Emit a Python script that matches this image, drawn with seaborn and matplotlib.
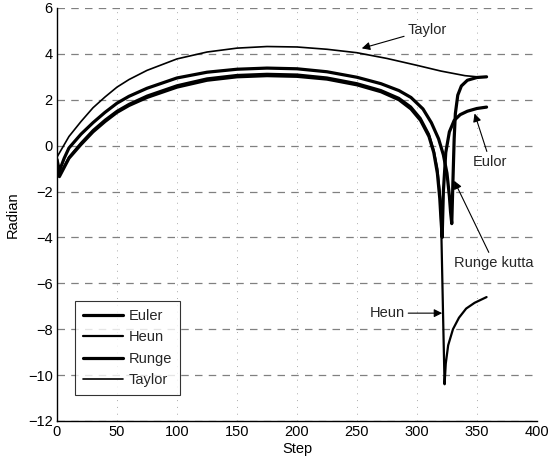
import numpy as np
import pandas as pd
import matplotlib
matplotlib.use("Agg")
import matplotlib.pyplot as plt
import seaborn as sns

# ---- data ----
euler_x = [0, 2, 6, 10, 20, 30, 40, 50, 60, 75, 100, 125, 150, 175, 200, 225, 250, 270, 285, 295, 303, 310, 314, 317, 319, 320, 321, 322, 324, 327, 331, 336, 342, 350, 358]
euler_y = [-0.7, -1.35, -0.95, -0.55, 0.05, 0.6, 1.05, 1.45, 1.75, 2.1, 2.55, 2.85, 3.0, 3.05, 3.02, 2.9, 2.65, 2.35, 2.0, 1.6, 1.1, 0.4, -0.3, -1.2, -2.3, -3.2, -4.0, -2.0, -0.3, 0.6, 1.1, 1.35, 1.5, 1.62, 1.68]

heun_x = [0, 2, 6, 10, 20, 30, 40, 50, 60, 75, 100, 125, 150, 175, 200, 225, 250, 270, 285, 295, 303, 310, 314, 317, 319, 320, 321, 322, 323, 324, 326, 330, 335, 341, 348, 358]
heun_y = [-0.6, -1.3, -0.9, -0.5, 0.12, 0.68, 1.13, 1.52, 1.82, 2.18, 2.63, 2.93, 3.08, 3.13, 3.1, 2.97, 2.72, 2.42, 2.08, 1.7, 1.2, 0.5, -0.2, -1.0, -2.0, -3.0, -5.5, -8.0, -10.4, -9.5, -8.7, -8.0, -7.5, -7.1, -6.85, -6.6]

runge_x = [0, 2, 6, 10, 20, 30, 40, 50, 60, 75, 100, 125, 150, 175, 200, 225, 250, 270, 285, 295, 305, 312, 318, 322, 325, 327, 328, 329, 330, 331, 332, 334, 337, 342, 350, 358]
runge_y = [-0.6, -1.1, -0.55, -0.1, 0.5, 1.0, 1.45, 1.85, 2.15, 2.5, 2.95, 3.2, 3.33, 3.38, 3.35, 3.22, 2.98, 2.7, 2.4, 2.1, 1.6, 1.0, 0.3, -0.4, -1.2, -2.2, -2.9, -3.4, -1.5, 0.3, 1.4, 2.2, 2.6, 2.85, 2.97, 3.0]

taylor_x = [0, 5, 10, 20, 30, 40, 50, 60, 75, 100, 125, 150, 175, 200, 225, 250, 275, 300, 320, 340, 350, 358]
taylor_y = [-0.5, -0.05, 0.4, 1.05, 1.65, 2.12, 2.55, 2.88, 3.28, 3.78, 4.08, 4.25, 4.32, 4.3, 4.2, 4.05, 3.8, 3.5, 3.25, 3.05, 3.0, 3.0]

series_names = ["Euler", "Heun", "Runge", "Taylor"]
x_ticks = [0, 50, 100, 150, 200, 250, 300, 350, 400]
y_ticks = [-12, -10, -8, -6, -4, -2, 0, 2, 4, 6]

frames = []
for name, xs, ys in [("Euler", euler_x, euler_y), ("Heun", heun_x, heun_y),
                     ("Runge", runge_x, runge_y), ("Taylor", taylor_x, taylor_y)]:
    frames.append(pd.DataFrame({"Step": xs, "Radian": ys, "Method": name}))
df = pd.concat(frames, ignore_index=True)

sns.set_theme(style="white")
plt.rcParams["font.family"] = ["Liberation Sans", "DejaVu Sans"]
plt.rcParams["font.size"] = 10.5

fig = plt.figure(figsize=(5.5, 4.61), dpi=100)
ax = fig.add_axes([0.1036, 0.0868, 0.8727, 0.8959])

widths = {"Euler": 2.3, "Heun": 1.6, "Runge": 2.3, "Taylor": 1.2}
for name in series_names:
    sub = df[df["Method"] == name]
    sns.lineplot(data=sub, x="Step", y="Radian", ax=ax, color="black",
                 linewidth=widths[name], sort=False, estimator=None, label=name)

ax.set_xlim(0, 400)
ax.set_ylim(-12, 6)
ax.set_xticks(x_ticks)
ax.set_yticks(y_ticks)
ax.set_xlabel("Step", fontsize=10.5, labelpad=2, color="black")
ax.set_ylabel("Radian", fontsize=10.5, labelpad=6, color="black")
ax.tick_params(axis="both", labelsize=10.5, colors="black", length=0, pad=3)

ax.yaxis.grid(True, linestyle=(0, (6, 5)), color="#808080", linewidth=0.9)
ax.xaxis.grid(True, linestyle=(0, (1, 6)), color="#aaaaaa", linewidth=0.7)
ax.set_axisbelow(True)
for s in ["top", "right"]:
    ax.spines[s].set_visible(False)
for s in ["left", "bottom"]:
    ax.spines[s].set_color("black")
    ax.spines[s].set_linewidth(1.0)

arrow = dict(arrowstyle="-|>", color="black", lw=0.8, mutation_scale=12, shrinkA=0, shrinkB=0)
ax.annotate("Taylor", xy=(254, 4.24), xytext=(292, 5.05), fontsize=10.5,
            ha="left", va="center", arrowprops=arrow)
ax.annotate("Eulor", xy=(348, 1.4), xytext=(361, -0.7), fontsize=10.5,
            ha="center", va="center", arrowprops=arrow)
ax.annotate("Runge kutta", xy=(331, -1.53), xytext=(364, -5.1), fontsize=10.5,
            ha="center", va="center", arrowprops=arrow)
ax.annotate("Heun", xy=(321, -7.3), xytext=(290, -7.3), fontsize=10.5,
            ha="right", va="center", arrowprops=arrow)

leg = ax.legend(loc="lower left", bbox_to_anchor=(0.038, 0.063), frameon=True,
                fancybox=False, edgecolor="black", fontsize=10.5,
                handlelength=2.7, handletextpad=0.4, labelspacing=0.5,
                borderpad=0.55, borderaxespad=0)
leg.get_frame().set_linewidth(0.8)

fig.savefig("out.png", dpi=100)
